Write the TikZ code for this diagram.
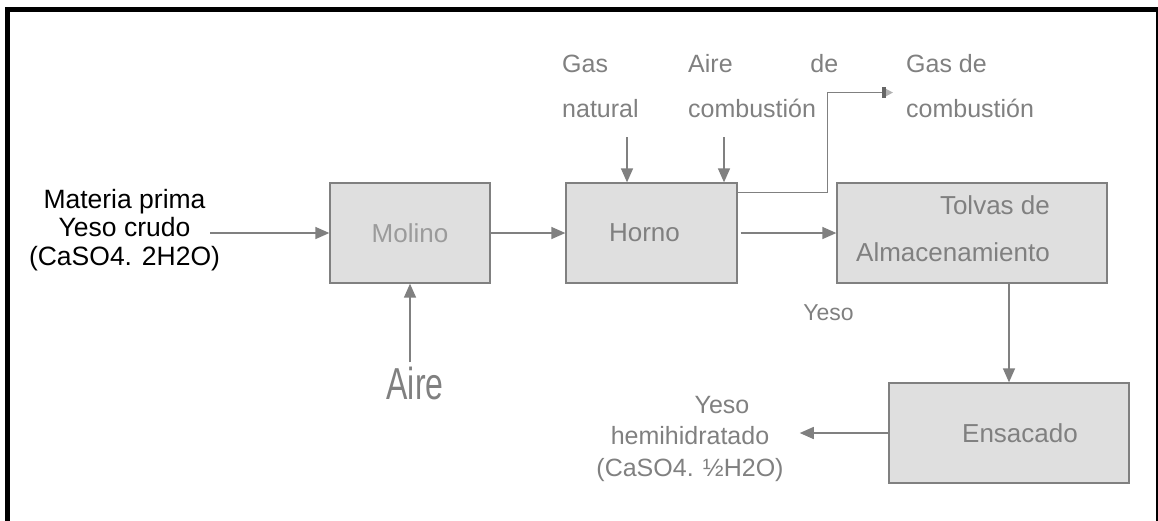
\documentclass[tikz,border=0pt]{standalone}
\usepackage{fontspec}
\setmainfont{Liberation Sans}
\usetikzlibrary{arrows.meta}
\definecolor{boxfill}{RGB}{223,223,223}
\definecolor{linegray}{RGB}{128,128,128}
\definecolor{txtgray}{RGB}{128,128,128}
\definecolor{lighttxt}{RGB}{155,155,155}
\hyphenpenalty=10000
\begin{document}
\begin{tikzpicture}[x=1pt,y=-1pt,
	box/.style={draw=linegray,line width=1.3pt,fill=boxfill,minimum height=100pt,inner sep=0pt,text=txtgray,font=\fontsize{26}{30}\selectfont},
	lbl/.style={inner sep=0pt,text=txtgray,font=\fontsize{25}{45}\selectfont},
	flow/.style={draw=linegray,line width=1.5pt,-{Triangle[length=14pt,width=12pt]}},
	exhaust/.style={draw=linegray,line width=1.5pt,-{Rectangle[length=4pt,width=11pt,color=black!60] Triangle[length=7pt,width=7pt,color=black!30]}}]
	\useasboundingbox (0,0) rectangle (1158,520);
	\draw[line width=5pt] (7.5,540) -- (7.5,9.5) -- (1158.5,9.5) -- (1158.5,540);
	\node[box,minimum width=160pt,text=lighttxt] (molino) at (410,233) {Molino};
	\node[box,minimum width=171pt] (horno) at (651.5,233) {Horno\hspace*{14pt}};
	\node[box,minimum width=270pt,label={[lbl,font=\fontsize{26}{47}\selectfont,align=right,xshift=-19pt,yshift=4pt]center:{Tolvas de\\Almacenamiento}}] (tolvas) at (972,233) {};
	\node[box,minimum width=240pt] (ensacado) at (1009,433) {\hspace*{22pt}Ensacado};
	\node[inner sep=0pt,align=center,font=\fontsize{26.5}{28.5}\selectfont] (materia) at (124.5,230) {Materia prima\\Yeso crudo\\(CaSO4. 2H2O)};
	\node[lbl,font=\fontsize{32}{36}\selectfont] (aire) at (415,383) {\scalebox{1}[1.4]{Aire}};
	\node[lbl,anchor=base west,align=left] (gasnat) at (562,117) {Gas\\natural};
	\node[lbl,anchor=base west,text width=150pt,align=justify] (airecomb) at (688,72) {Aire de combustión};
	\node[lbl,anchor=base west,align=left] (gascomb) at (906,117) {Gas de\\combustión};
	\node[lbl,font=\fontsize{23}{28}\selectfont] (yeso) at (828.5,313) {Yeso};
	\node[lbl,align=center,font=\fontsize{25}{31.5}\selectfont] (hemi) at (690,438.5) {\hspace*{64pt}Yeso\\hemihidratado\\(CaSO4. ½H2O)};
	\coordinate (gasin) at (627,137);
	\coordinate (airein) at (724,137);
	\draw[flow,shorten <=-10pt] (materia.east |- molino.west) -- (molino.west);
	\draw[flow] (molino) -- (horno);
	\draw[flow,shorten <=3pt] (horno) -- (tolvas);
	\draw[flow,shorten <=4pt] (molino.south |- aire.north) -- (molino.south);
	\foreach \c in {gasin,airein}
	\draw[flow] (\c) -- (\c |- horno.north);
	\draw[exhaust,shorten >=13pt] ([yshift=-10pt]horno.north east) -- ++(90,0) |- ([yshift=-7pt]gascomb.west);
	\draw[flow] (tolvas.south -| ensacado.north) -- (ensacado.north);
	\draw[flow,shorten >=16pt] (ensacado.west) -- (ensacado.west -| hemi.east);
\end{tikzpicture}
\end{document}
